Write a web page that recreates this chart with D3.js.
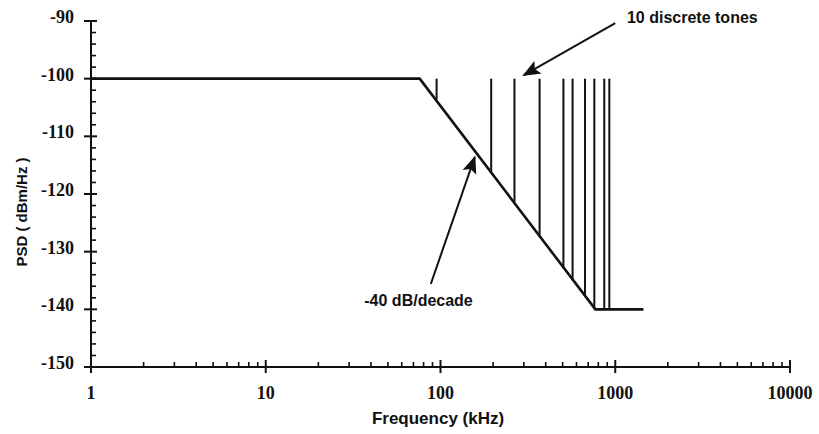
<!DOCTYPE html>
<html>
<head>
<meta charset="utf-8">
<script src="https://cdn.jsdelivr.net/npm/d3@7"></script>
<style>
  body { margin: 0; background: #fff; }
  svg { display: block; }
  .tick-label { font-family: "Liberation Serif", "DejaVu Serif", serif; font-weight: bold; font-size: 18px; fill: #111; }
  .title { font-family: "Liberation Sans", Arial, sans-serif; font-weight: bold; fill: #111; }
</style>
</head>
<body>
<div id="chart"></div>
<script>
// Datos del espectro (PSD)
const psdFreq = [1, 76, 770, 1450];
const psdLevel = [-100, -100, -140, -140];

// Tonos discretos: frecuencia, nivel arriba y abajo
const toneFreq = [95, 195, 265, 369, 505, 570, 671, 759, 865, 925];
const toneTop = [-100, -100, -100, -100, -100, -100, -100, -100, -100, -100];
const toneBottom = [-103.6, -116.4, -121.7, -127.5, -132.9, -135, -137.8, -140, -140, -140];

// Etiquetas de los ejes
const xTickValues = [1, 10, 100, 1000, 10000];
const xTickLabels = ['1', '10', '100', '1000', '10000'];
const yTickValues = [-150, -140, -130, -120, -110, -100, -90];
const yTickLabels = ['-150', '-140', '-130', '-120', '-110', '-100', '-90'];

// Anotaciones (en unidades de datos)
const notes = [
  { text: '10 discrete tones', x: 1167, y: -90.35, anchor: 'start', from: [1000, -90.35], to: [300, -99.4] },
  { text: '-40 dB/decade', x: 153, y: -139.4, anchor: 'end', from: [88, -135.6], to: [157, -113.6] }
];

const width = 819;
const height = 434;

const svg = d3.select('#chart').append('svg')
  .attr('width', width)
  .attr('height', height);

const x = d3.scaleLog().domain([1, 10000]).range([91, 790]);
const y = d3.scaleLinear().domain([-150, -90]).range([367, 21]);

// Eje Y
const axisG = svg.append('g').attr('stroke', '#111').attr('stroke-width', 2).attr('fill', 'none');
axisG.append('line')
  .attr('x1', x(1)).attr('x2', x(1))
  .attr('y1', y(-90)).attr('y2', y(-150));

// ticks menores cada 2 dB
d3.range(-150, -89, 2).forEach(v => {
  if (v % 10 === 0) return;
  axisG.append('line')
    .attr('x1', x(1)).attr('x2', x(1) + 5)
    .attr('y1', y(v)).attr('y2', y(v))
    .attr('stroke-width', 1.6);
});
yTickValues.forEach(v => {
  axisG.append('line')
    .attr('x1', x(1) - 7).attr('x2', x(1) + 6)
    .attr('y1', y(v)).attr('y2', y(v));
});

// Eje X
axisG.append('line')
  .attr('x1', x(1)).attr('x2', x(10000))
  .attr('y1', y(-150)).attr('y2', y(-150));

const xMinor = [];
for (let d = 1; d < 10000; d *= 10) {
  for (let k = 2; k <= 9; k++) xMinor.push(d * k);
}
xMinor.forEach(v => {
  axisG.append('line')
    .attr('x1', x(v)).attr('x2', x(v))
    .attr('y1', y(-150)).attr('y2', y(-150) - 5)
    .attr('stroke-width', 1.6);
});
xTickValues.forEach(v => {
  axisG.append('line')
    .attr('x1', x(v)).attr('x2', x(v))
    .attr('y1', y(-150) - 7).attr('y2', y(-150) + 6);
});

// Etiquetas de ticks
svg.selectAll('.xlab')
  .data(xTickValues)
  .enter()
  .append('text')
  .attr('class', 'tick-label')
  .attr('x', d => x(d))
  .attr('y', y(-150) + 32)
  .attr('text-anchor', 'middle')
  .text((d, i) => xTickLabels[i]);

svg.selectAll('.ylab')
  .data(yTickValues)
  .enter()
  .append('text')
  .attr('class', 'tick-label')
  .attr('x', x(1) - 17)
  .attr('y', d => y(d) + 2)
  .attr('text-anchor', 'end')
  .text((d, i) => yTickLabels[i]);

// Títulos de ejes
svg.append('text')
  .attr('class', 'title')
  .attr('x', 438)
  .attr('y', 424)
  .attr('text-anchor', 'middle')
  .style('font-size', '17px')
  .text('Frequency (kHz)');

svg.append('text')
  .attr('class', 'title')
  .attr('transform', 'translate(27, 212) rotate(-90)')
  .attr('text-anchor', 'middle')
  .style('font-size', '15px')
  .text('PSD ( dBm/Hz )');

// Curva PSD
const line = d3.line()
  .x(d => x(d[0]))
  .y(d => y(d[1]));

svg.append('path')
  .datum(psdFreq.map((f, i) => [f, psdLevel[i]]))
  .attr('d', line)
  .attr('fill', 'none')
  .attr('stroke', '#111')
  .attr('stroke-width', 2.6);

// Tonos
svg.selectAll('.tone')
  .data(toneFreq)
  .enter()
  .append('line')
  .attr('x1', d => x(d)).attr('x2', d => x(d))
  .attr('y1', (d, i) => y(toneTop[i]))
  .attr('y2', (d, i) => y(toneBottom[i]))
  .attr('stroke', '#111')
  .attr('stroke-width', 2);

// Flechas y textos de anotación
svg.append('defs').append('marker')
  .attr('id', 'head')
  .attr('viewBox', '0 0 10 10')
  .attr('refX', 9).attr('refY', 5)
  .attr('markerWidth', 9).attr('markerHeight', 9)
  .attr('markerUnits', 'strokeWidth')
  .attr('orient', 'auto')
  .append('path')
  .attr('d', 'M0,1 L10,5 L0,9 L2,5 Z')
  .attr('fill', '#111');

notes.forEach(n => {
  svg.append('line')
    .attr('x1', x(n.from[0])).attr('y1', y(n.from[1]))
    .attr('x2', x(n.to[0])).attr('y2', y(n.to[1]))
    .attr('stroke', '#111')
    .attr('stroke-width', 2)
    .attr('marker-end', 'url(#head)');

  svg.append('text')
    .attr('class', 'title')
    .attr('x', x(n.x))
    .attr('y', y(n.y))
    .attr('text-anchor', n.anchor)
    .style('font-size', '16px')
    .text(n.text);
});
</script>
</body>
</html>
